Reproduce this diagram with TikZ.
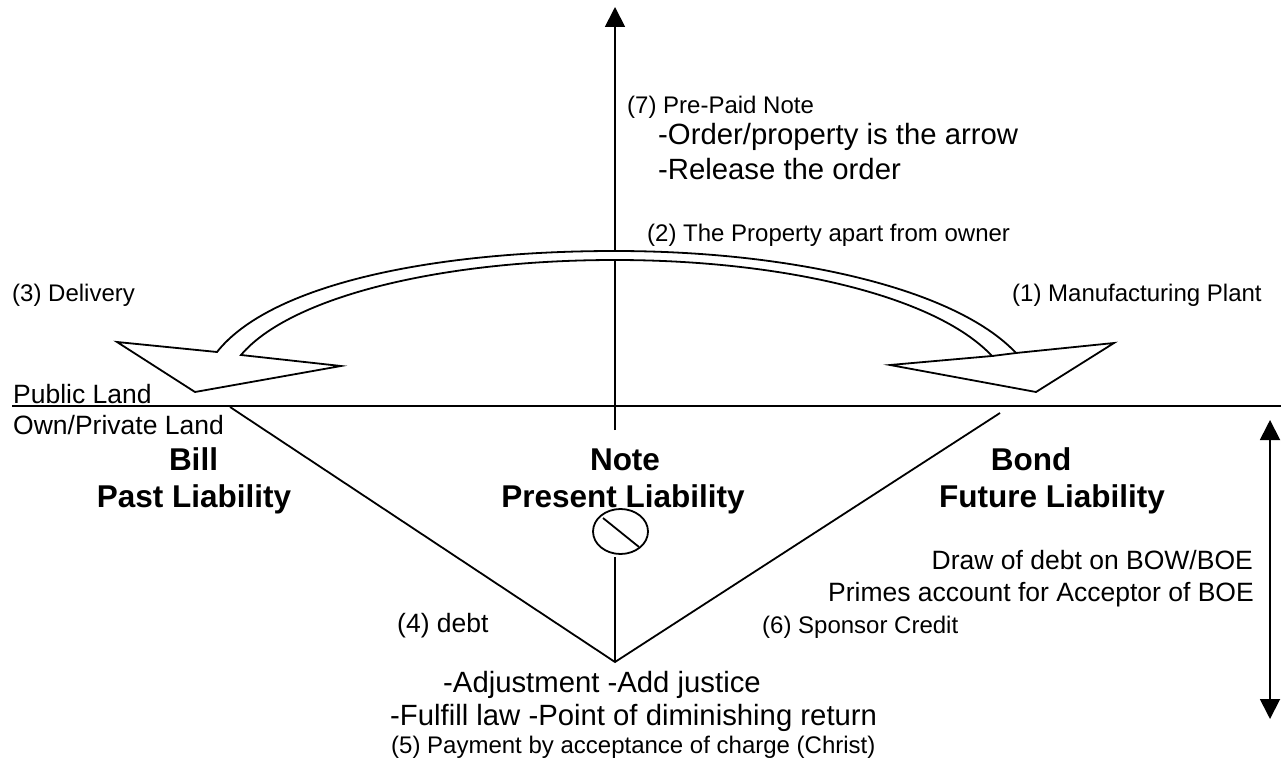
\documentclass[tikz,border=0pt]{standalone}
\usepackage{fontspec}
\setmainfont{Liberation Sans}
\usetikzlibrary{arrows.meta,shapes.geometric}
\tikzset{
  ln/.style={draw=black,line width=1.8pt},
  lbl/.style={inner sep=0pt,anchor=base west,font=\fontsize{24}{29}\selectfont},
  big/.style={inner sep=0pt,anchor=base west,font=\fontsize{26.5}{32}\selectfont},
  med/.style={inner sep=0pt,anchor=base west,font=\fontsize{29.3}{35}\selectfont},
  ttl/.style={inner sep=0pt,anchor=base,font=\fontsize{31.5}{38}\selectfont\bfseries},
  tip/.style={-{Triangle[length=20pt,width=20pt]}},
  dtip/.style={{Triangle[length=20pt,width=20pt]}-{Triangle[length=20pt,width=20pt]}}
}
\begin{document}
\begin{tikzpicture}[x=1pt,y=-1pt]
\useasboundingbox (0,0) rectangle (1281,759);
% coordinates
\coordinate (upB) at (615,430);
\coordinate (upT) at (615,7);
\coordinate (hL) at (12,406);
\coordinate (hR) at (1281,406);
\coordinate (apex) at (615,662);
\coordinate (triL) at (230,407);
\coordinate (triR) at (1000,413);
\coordinate (stemT) at (615,557);
\coordinate (dT) at (1270,420);
\coordinate (dB) at (1270,719);
% lines
\draw[ln] (hL) -- (hR);
\draw[ln,tip] (upB) -- (upT);
\draw[ln] (triL) -- (apex) -- (triR);
\draw[ln] (stemT) -- (apex);
\draw[ln,dtip] (dT) -- (dB);
% circle
\node[draw=black,line width=1.8pt,ellipse,minimum width=55pt,minimum height=45pt,inner sep=0pt] (circ) at (620.5,531.5) {};
\coordinate (sl1) at (603,518);
\coordinate (sl2) at (639,547);
\draw[ln] (sl1) -- (sl2);
% curved double arrow
\draw[ln,line join=miter,fill=white]
  (217,352) -- (117,342) -- (195,392) -- (341,366) -- (241,355)
  .. controls (290,297) and (440,260) .. (615,260)
  .. controls (780,260) and (935,295) .. (992,356)
  -- (890,365) -- (1036,392) -- (1114,343) -- (1016,353)
  .. controls (955,288) and (790,251) .. (615,251)
  .. controls (430,251) and (270,285) .. cycle;
\draw[ln] (992,356) -- (1016,353);
% labels
\node[lbl] (t7) at (627,114) {(7) Pre-Paid Note};
\node[med] (o1) at (658,145) {-Order/property is the arrow};
\node[med] (o2) at (658,180) {-Release the order};
\node[lbl] (t2) at (647,242) {(2) The Property apart from owner};
\node[lbl] (t3) at (12,301) {(3) Delivery};
\node[lbl] (t1) at (1012,301) {(1) Manufacturing Plant};
\node[big] (pub) at (13,403) {Public Land};
\node[big] (own) at (13,434) {Own/Private Land};
\node[ttl] (bill) at (193.5,470) {Bill};
\node[ttl] (past) at (194,507) {Past Liability};
\node[ttl] (note) at (625,470) {Note};
\node[ttl] (pres) at (623,507) {Present Liability};
\node[ttl] (bond) at (1031,470) {Bond};
\node[ttl] (fut) at (1052,507) {Future Liability};
\node[big,anchor=base east] (d1) at (1253,569) {Draw of debt on BOW/BOE};
\node[big,anchor=base east] (d2) at (1254,601) {Primes account for Acceptor of BOE};
\node[big] (t4) at (397,632) {(4) debt};
\node[lbl] (t6) at (762,633) {(6) Sponsor Credit};
\node[med] (a1) at (443,692) {-Adjustment -Add justice};
\node[med] (a2) at (390,725) {-Fulfill law -Point of diminishing return};
\node[lbl] (t5) at (391,753) {(5) Payment by acceptance of charge (Christ)};
\end{tikzpicture}
\end{document}
